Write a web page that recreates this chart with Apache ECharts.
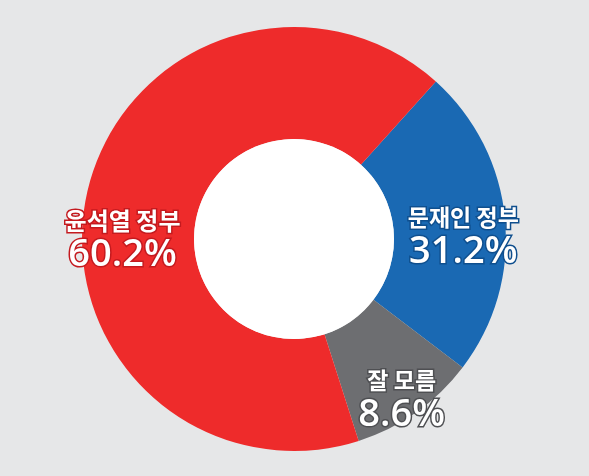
<!DOCTYPE html>
<html>
<head>
<meta charset="utf-8">
<script src="https://cdn.jsdelivr.net/npm/echarts@6/dist/echarts.min.js"></script>
<style>
  html, body { margin: 0; padding: 0; background: #e6e7e8; }
  #pie { width: 589px; height: 476px; }
</style>
</head>
<body>
<div id="pie"></div>
<script>
// 조각 순서: 12시 방향 오른쪽부터 시계방향
var names = ['문재인 정부', '잘 모름', '윤석열 정부'];
// 라벨에 적힌 수치
var printed = ['31.2%', '8.6%', '60.2%'];
// 그림에서 잰 조각 크기 (원본 그래픽은 라벨 수치와 각도가 다름)
var arcShare = [23.7, 9.7, 66.6];
var colors = ['#1a69b3', '#6d6e71', '#ee2b2b'];
var outline = ['#0f4f8e', '#4e4f52', '#c41a1f'];
// 라벨 위치 보정
var labelDx = [11, 16, -16];
var labelDy = [12, 30, 34];

var myChart = echarts.init(document.getElementById('pie'));

var data = [];
for (var i = 0; i < names.length; i++) {
    data.push({
        name: names[i],
        value: arcShare[i],
        itemStyle: { color: colors[i] },
        label: {
            formatter: '{n|' + names[i] + '}\n{v|' + printed[i] + '}',
            textBorderColor: outline[i],
            rich: {
                n: { textBorderColor: outline[i], fontSize: i == 2 ? 24 : 23 },
                v: { textBorderColor: outline[i] }
            }
        }
    });
}

var option = {
    backgroundColor: '#e6e7e8',
    animation: false,
    series: [
        {
            type: 'pie',
            center: [294, 239],
            radius: [100, 212],
            startAngle: 48,
            clockwise: true,
            silent: true,
            label: {
                show: true,
                position: 'inside',
                color: '#fff',
                textBorderWidth: 3,
                fontFamily: 'Noto Sans CJK KR',
                rich: {
                    n: {
                        fontSize: 23,
                        fontWeight: 'bold',
                        color: '#fff',
                        textBorderWidth: 3,
                        lineHeight: 32,
                        fontFamily: 'Noto Sans CJK KR'
                    },
                    v: {
                        fontSize: 38,
                        fontWeight: 600,
                        color: '#fff',
                        textBorderWidth: 3,
                        lineHeight: 38,
                        fontFamily: '"Open Sans", "Noto Sans CJK KR"'
                    }
                }
            },
            labelLayout: function (params) {
                return { dx: labelDx[params.dataIndex], dy: labelDy[params.dataIndex] };
            },
            data: data
        },
        {
            // 가운데 흰 원
            type: 'pie',
            center: [294, 239],
            radius: [0, 100],
            silent: true,
            label: { show: false },
            data: [{ value: 1, itemStyle: { color: '#fff' } }]
        }
    ]
};
myChart.setOption(option);
</script>
</body>
</html>
